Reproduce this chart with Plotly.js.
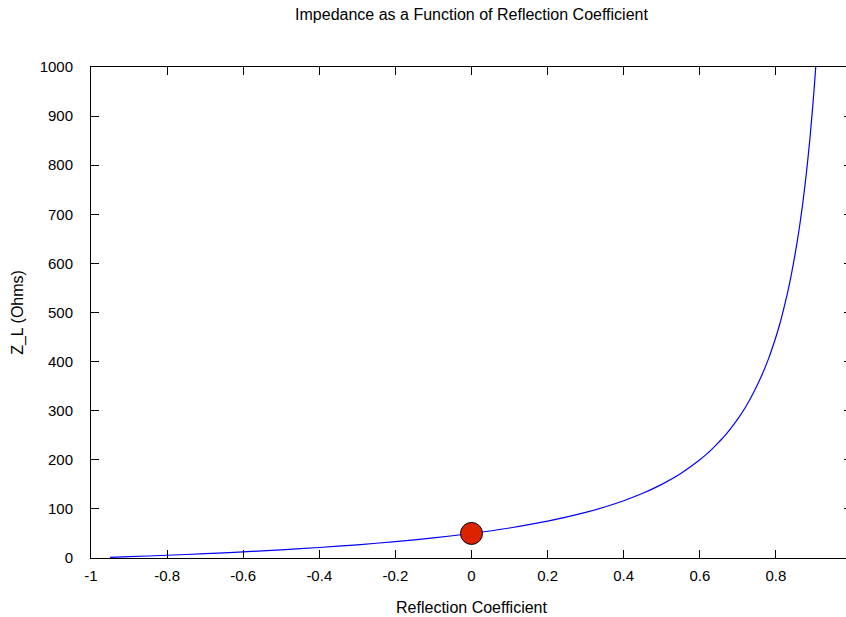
<!DOCTYPE html>
<html>
<head>
<meta charset="utf-8">
<script src="https://cdn.plot.ly/plotly-3.0.1.min.js"></script>
<style>
html, body { margin: 0; padding: 0; overflow: hidden; background: #fff; }
#chart { width: 860px; height: 617px; }
</style>
</head>
<body>
<div id="chart"></div>
<script>
// Reflection coefficient (x) and load impedance in ohms (y)
const gamma = [-0.95, -0.9, -0.8, -0.7, -0.6, -0.5, -0.4, -0.3, -0.2, -0.1, 0,
  0.1, 0.2, 0.3, 0.35, 0.4, 0.45, 0.5, 0.55, 0.6, 0.62, 0.64, 0.66, 0.68, 0.7,
  0.72, 0.74, 0.76, 0.78, 0.8, 0.81, 0.82, 0.83, 0.84, 0.85, 0.86, 0.87, 0.88,
  0.89, 0.9, 0.905];
const zLoad = [1.3, 2.6, 5.6, 8.8, 12.5, 16.7, 21.4, 26.9, 33.3, 40.9, 50,
  61.1, 75, 92.9, 103.8, 116.7, 131.8, 150, 172.2, 200, 213, 228, 244, 262.5, 283.3,
  307, 335, 367, 404.5, 450, 476, 506, 538, 575, 617, 664, 719, 783,
  859, 950, 1003];
// Highlighted point (matched load)
const markX = [0];
const markY = [50];
const xTicks = [-1, -0.8, -0.6, -0.4, -0.2, 0, 0.2, 0.4, 0.6, 0.8];
const xTickText = ['-1', '-0.8', '-0.6', '-0.4', '-0.2', '0', '0.2', '0.4', '0.6', '0.8'];
const yTicks = [0, 100, 200, 300, 400, 500, 600, 700, 800, 900, 1000];

const fam = 'Arial, "Liberation Sans", sans-serif';
const tickFont = {family: fam, size: 15, color: '#000'};
const titleFont = {family: fam, size: 16, color: '#000'};

const traces = [
  {x: gamma, y: zLoad, type: 'scatter', mode: 'lines',
   line: {color: '#0000ff', width: 1.2, shape: 'spline', smoothing: 0.6}, hoverinfo: 'skip'},
  {x: markX, y: markY, type: 'scatter', mode: 'markers',
   marker: {size: 22, color: '#dd2200', line: {color: '#000', width: 1}}}
];

const layout = {
  width: 860, height: 617,
  margin: {l: 91, r: 8, t: 67, b: 59},
  paper_bgcolor: '#fff', plot_bgcolor: '#fff',
  showlegend: false,
  font: tickFont,
  title: {text: 'Impedance as a Function of Reflection Coefficient',
          font: titleFont, x: 0.5, xref: 'paper', y: 1 - 14/617, yref: 'container', yanchor: 'middle'},
  xaxis: {
    range: [-1, 1], showgrid: false, zeroline: false,
    showline: true, linecolor: '#000', linewidth: 1, mirror: 'ticks',
    ticks: 'inside', ticklen: 8, tickcolor: '#000', tickwidth: 1,
    tickvals: xTicks, ticktext: xTickText, tickfont: tickFont,
    ticklabelstandoff: 4,
    title: {text: 'Reflection Coefficient', font: titleFont, standoff: 18}
  },
  yaxis: {
    range: [0, 1000], showgrid: false, zeroline: false,
    showline: true, linecolor: '#000', linewidth: 1, mirror: 'ticks',
    ticks: 'inside', ticklen: 8, tickcolor: '#000', tickwidth: 1,
    tickvals: yTicks, tickfont: tickFont,
    ticklabelstandoff: 14,
    title: {text: 'Z_L (Ohms)', font: titleFont, standoff: 12}
  }
};

Plotly.newPlot('chart', traces, layout, {displayModeBar: false, staticPlot: true});
</script>
</body>
</html>
